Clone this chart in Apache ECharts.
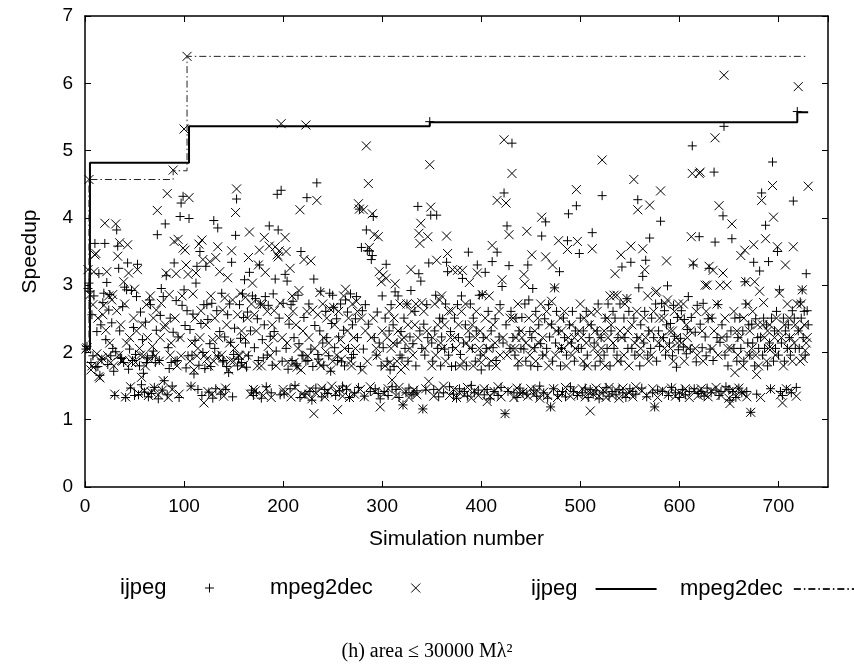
<!DOCTYPE html>
<html>
<head>
<meta charset="utf-8">
<script src="https://cdn.jsdelivr.net/npm/echarts@6/dist/echarts.min.js"></script>
<style>html,body{margin:0;padding:0;background:#fff;}#c{width:854px;height:664px;}</style>
</head>
<body>
<div id="c"></div>
<script>
// Speedup per simulation number (simulation 1..730)
const ijpeg = [
2.05,2.09,2.95,3.03,2.91,1.85,2.56,1.95,2.84,3.62,
1.78,2.31,1.79,3.17,1.66,2.41,1.90,2.74,2.88,3.62,
2.19,3.04,1.82,2.63,2.86,1.95,2.44,2.06,1.72,1.36,
2.01,3.82,3.58,3.25,2.32,1.92,1.91,2.68,1.85,2.97,
1.33,2.93,3.33,1.75,2.05,1.47,2.92,1.88,2.37,1.36,
1.97,2.83,3.31,1.37,1.80,2.60,1.52,2.19,1.69,1.41,
2.45,1.85,1.92,1.34,2.78,2.71,1.39,1.95,2.02,1.48,
1.85,2.33,3.75,1.31,1.88,2.55,2.95,1.44,2.83,1.58,
3.91,3.14,1.37,2.07,1.76,2.51,1.85,1.50,2.30,3.33,
1.87,2.77,1.88,2.23,1.33,4.02,4.22,2.70,4.32,2.93,
2.40,1.77,2.62,1.95,3.99,2.34,1.50,1.96,2.57,1.68,
2.18,3.03,3.28,1.45,1.81,3.50,2.43,1.36,2.00,2.71,
1.76,3.28,2.71,2.49,1.41,2.13,1.79,2.73,1.32,3.96,
2.06,1.46,2.62,3.85,1.95,2.31,1.38,2.88,1.86,1.88,
2.23,1.45,1.79,2.56,1.70,2.72,2.15,3.34,1.34,1.97,
2.36,3.74,4.28,1.80,1.90,2.71,2.21,1.85,2.87,2.52,
3.08,2.14,1.78,2.60,1.95,3.19,2.32,1.44,2.84,1.36,
2.07,2.80,1.40,2.50,1.88,3.30,2.72,1.32,2.19,1.92,
2.41,2.83,1.49,1.96,2.70,3.88,2.24,1.40,1.81,2.87,
2.31,3.09,2.02,4.35,3.82,2.51,1.37,4.41,1.87,2.73,
1.38,3.16,2.06,3.06,1.75,2.42,1.46,2.71,1.88,2.76,
2.22,1.51,1.83,1.80,2.85,2.13,1.33,3.50,1.96,1.95,
2.52,1.38,1.87,4.30,1.88,2.72,1.42,2.05,1.29,1.79,
3.09,2.40,1.47,4.52,1.97,1.90,2.32,2.91,1.34,2.14,
1.81,1.45,2.61,2.22,1.39,1.95,2.88,1.72,2.43,2.85,
2.67,2.07,1.36,2.50,1.88,2.23,1.43,2.72,1.86,1.50,
2.33,1.80,2.78,1.45,2.60,2.06,1.33,2.87,1.92,2.41,
1.97,1.40,2.50,2.83,2.22,1.48,4.13,1.79,3.56,2.62,
2.05,1.35,2.71,3.82,3.51,2.42,3.51,1.42,3.38,3.44,
4.02,2.22,1.46,1.96,2.60,1.39,2.14,1.31,1.80,2.84,
2.07,1.42,2.51,3.31,1.87,1.36,2.32,1.74,2.71,1.49,
2.41,1.79,2.90,1.45,2.14,2.84,1.33,1.96,2.31,1.92,
1.22,2.51,2.06,1.40,2.72,1.87,1.47,2.23,2.92,1.37,
2.13,1.40,2.61,1.80,1.43,4.17,3.17,2.32,3.06,2.06,
1.16,2.42,1.96,1.44,2.71,2.22,3.33,5.43,4.04,2.14,
1.87,1.45,2.32,2.85,4.04,2.06,1.34,2.51,1.80,2.23,
2.50,1.40,2.05,2.72,3.34,3.20,1.96,1.49,2.31,1.79,
2.07,1.38,2.51,1.80,1.32,2.71,2.22,1.46,1.97,2.84,
3.10,2.14,1.42,2.41,1.80,1.35,3.49,2.23,2.72,1.51,
2.06,2.51,1.40,1.87,2.32,3.30,1.44,2.85,1.96,1.74,
2.86,2.22,1.37,3.19,2.06,1.45,2.61,1.80,1.31,2.32,
3.35,2.07,1.42,2.50,1.88,3.49,1.36,2.23,2.71,1.48,
2.98,2.14,4.37,1.09,2.41,3.88,1.42,3.29,2.06,2.61,
5.11,2.22,1.40,1.96,2.51,1.33,1.80,2.32,1.47,2.06,
2.52,1.40,2.05,2.72,1.87,1.38,3.30,2.78,2.31,1.80,
2.22,2.95,1.44,2.07,2.61,1.35,1.79,2.41,1.50,2.13,
3.73,1.96,1.40,2.50,3.94,2.06,1.32,2.71,2.23,1.19,
2.42,1.87,1.46,2.96,2.14,2.61,1.37,2.32,3.20,1.80,
2.06,1.42,2.51,2.22,1.34,1.96,3.66,4.06,2.41,1.49,
2.14,2.61,1.42,1.87,2.32,4.18,1.36,2.06,3.47,2.51,
2.06,1.40,2.32,1.80,1.47,2.61,1.96,1.33,2.22,1.45,
2.41,3.78,1.38,2.14,1.80,1.43,2.32,2.72,1.31,1.87,
2.22,4.33,1.40,1.96,2.51,1.48,2.06,2.72,1.35,1.80,
2.32,1.42,2.61,2.06,2.51,1.37,1.96,2.22,1.45,2.72,
1.87,3.27,1.40,2.51,2.22,1.33,2.80,2.06,2.61,1.46,
3.34,2.06,1.42,2.51,1.96,1.38,2.22,4.27,2.96,1.80,
2.41,1.47,3.13,2.14,2.61,3.37,1.34,1.96,2.32,3.70,
2.06,2.51,1.40,2.22,1.19,2.72,1.87,1.44,2.32,2.09,
3.95,2.73,1.42,2.22,2.62,1.96,2.41,2.99,1.36,2.14,
2.43,1.48,1.95,2.70,2.24,1.40,1.78,2.52,2.04,1.33,
2.21,2.62,1.45,2.08,2.49,1.37,1.98,2.34,2.83,1.42,
2.05,2.52,5.07,3.30,1.46,2.30,1.86,2.70,1.39,3.72,
2.42,1.42,2.07,2.73,1.35,2.23,1.95,1.47,2.50,3.25,
2.05,1.40,2.51,1.88,4.68,3.64,1.44,2.22,2.71,1.36,
2.15,1.42,2.41,4.03,5.36,1.96,1.49,2.23,1.80,1.45,
1.29,2.32,3.69,1.42,2.06,2.51,1.33,1.87,2.22,1.47,
2.52,2.06,1.40,2.32,1.87,3.05,2.72,1.42,2.14,2.41,
1.96,1.11,2.42,2.14,3.34,1.80,2.50,1.38,2.22,2.06,
3.21,2.23,4.37,1.96,2.51,2.06,3.89,2.41,1.80,3.35,
2.14,1.46,2.51,4.83,1.87,2.32,2.06,2.61,3.50,1.96,
2.93,1.42,2.14,1.36,2.51,1.87,2.32,1.45,2.06,2.41,
2.22,1.96,1.40,2.62,4.25,2.51,2.06,1.48,5.58,2.32,
2.06,2.75,2.51,2.93,2.22,2.61,1.96,3.17,2.62,2.41
];
const mpeg2dec = [
2.05,2.07,3.23,4.57,2.86,1.74,1.80,2.71,3.20,3.45,
3.47,1.98,2.51,1.64,1.62,1.87,1.92,2.56,2.70,3.92,
2.33,3.20,1.95,2.84,2.14,1.85,2.78,2.86,1.80,1.38,
3.91,2.62,3.43,1.96,3.63,2.41,1.88,1.87,3.05,2.72,
1.34,2.14,3.60,3.18,2.22,1.49,1.85,1.90,2.51,2.94,
1.85,2.32,3.23,1.39,2.06,1.96,1.63,2.41,1.95,1.43,
1.80,2.71,2.22,1.36,1.90,2.84,1.41,2.09,2.51,1.47,
1.95,2.63,4.11,1.37,1.87,2.22,2.73,1.44,1.58,2.37,
2.41,3.18,4.36,1.33,2.86,1.96,2.14,1.45,4.71,3.65,
2.51,3.17,1.80,3.68,1.38,2.22,1.95,2.84,3.55,5.32,
3.52,3.30,6.40,3.16,4.30,1.87,1.49,2.14,2.87,1.74,
2.51,3.18,1.95,2.06,3.61,2.22,2.62,3.67,3.38,1.25,
1.96,2.41,1.90,1.42,1.80,3.35,2.84,1.38,2.19,1.87,
2.51,3.41,1.95,3.57,2.22,3.20,1.43,1.96,2.63,1.35,
2.81,1.47,2.41,3.11,1.74,2.14,1.88,3.51,2.78,1.87,
2.06,4.08,4.43,2.56,1.96,1.95,2.88,2.32,1.80,1.81,
2.22,2.82,1.96,2.51,3.41,3.79,1.38,2.72,3.03,1.45,
2.56,1.43,2.32,1.80,3.30,3.52,2.72,1.80,2.71,1.36,
3.71,3.19,1.46,2.61,2.09,3.58,1.95,1.33,2.41,2.22,
2.62,3.57,1.80,3.45,3.42,3.51,2.73,5.40,2.22,1.45,
1.40,3.71,3.50,2.14,1.85,2.51,3.25,1.34,2.84,2.61,
1.85,1.48,2.41,1.78,2.06,2.92,4.12,1.74,1.38,2.32,
3.38,1.36,5.38,2.61,1.95,2.22,1.45,3.36,1.31,2.63,
1.09,2.06,1.40,4.26,2.56,1.85,2.89,1.80,1.47,2.72,
2.22,1.34,2.01,2.51,1.42,2.14,2.65,1.74,1.50,1.87,
2.67,2.41,1.40,1.96,1.15,2.61,1.45,2.19,1.90,1.35,
2.84,2.06,2.94,1.47,2.32,2.51,1.33,1.87,1.80,2.72,
2.22,1.38,2.06,2.76,2.61,4.21,4.13,1.45,2.51,1.74,
4.12,1.34,2.32,5.07,1.87,4.51,3.56,1.49,2.22,4.06,
2.51,3.75,1.42,2.06,1.95,3.72,3.20,1.19,3.05,2.32,
3.15,1.39,1.80,3.10,2.22,1.46,2.61,1.85,2.06,1.59,
2.14,2.51,3.02,1.36,1.87,2.32,1.48,2.72,1.74,2.19,
1.22,2.22,1.80,1.42,2.72,2.41,1.33,2.06,3.23,2.61,
1.96,1.44,2.41,2.72,1.37,2.22,3.77,3.62,3.92,2.74,
1.16,2.61,2.06,1.46,2.32,3.72,1.57,4.79,4.16,1.80,
2.22,1.35,2.72,1.96,3.37,2.41,1.44,2.78,2.14,2.84,
2.06,1.50,2.41,1.87,3.73,3.47,2.61,1.36,2.22,2.62,
3.23,1.45,2.22,2.06,1.33,3.22,2.41,1.40,1.80,2.61,
3.22,1.87,1.37,2.72,2.14,1.48,2.32,3.04,2.06,1.32,
2.41,1.80,1.43,2.22,2.61,3.18,1.36,2.06,2.32,1.85,
2.86,1.96,1.46,2.51,2.22,1.27,2.06,2.84,1.35,1.87,
3.59,2.41,1.42,2.14,1.80,4.26,1.49,2.61,1.96,1.34,
3.08,2.22,5.16,1.09,4.22,1.96,1.44,3.75,2.51,2.06,
4.66,2.51,1.33,2.06,2.22,1.47,2.72,1.87,1.38,2.32,
2.22,1.41,3.16,3.02,2.14,3.80,1.35,2.51,1.96,1.46,
3.45,2.06,1.37,2.32,1.87,1.44,2.51,2.14,1.32,2.72,
4.01,2.22,1.41,1.96,3.42,2.61,1.36,1.80,2.41,1.19,
2.76,3.30,1.46,2.96,1.96,2.32,1.33,3.66,2.06,2.51,
2.32,1.39,2.06,2.61,1.48,1.80,3.53,2.22,2.14,1.35,
2.41,1.96,1.44,2.22,2.06,4.42,3.65,1.37,2.32,2.72,
2.22,1.46,1.87,2.51,1.34,2.14,1.80,1.42,2.41,1.13,
2.59,3.54,1.38,2.06,2.32,1.47,2.61,1.96,1.35,2.22,
2.06,4.86,1.44,2.32,1.80,1.33,2.51,2.22,1.48,2.84,
2.41,1.36,2.14,2.85,3.17,1.45,2.85,1.87,1.32,2.32,
3.45,2.22,1.47,1.96,2.72,1.37,2.80,2.32,1.80,1.41,
3.58,2.41,1.34,4.57,2.14,1.49,2.61,4.12,2.22,1.96,
2.06,1.43,3.54,2.51,3.23,2.22,1.36,2.84,1.87,4.19,
2.32,1.96,1.46,2.61,1.19,2.89,2.91,1.33,2.14,2.51,
4.40,2.22,1.44,2.51,2.06,2.72,3.36,2.78,1.38,2.32,
2.06,1.47,2.32,1.87,2.61,1.35,2.22,2.14,2.72,1.41,
2.51,2.14,1.37,2.72,1.87,1.46,2.41,2.22,2.06,1.33,
2.32,3.72,4.66,3.33,1.44,2.06,2.61,1.96,1.36,4.66,
4.68,1.46,2.32,1.87,1.38,3.00,2.61,3.00,1.34,3.28,
2.51,1.43,2.06,3.22,2.32,5.19,1.48,2.72,1.96,4.18,
3.00,1.36,2.22,3.18,6.12,2.51,1.45,3.00,2.06,1.32,
1.24,2.06,3.91,1.44,2.61,1.70,1.35,2.32,1.96,1.47,
2.22,3.44,1.40,1.80,2.51,3.52,3.05,1.34,2.72,1.96,
2.32,1.11,2.06,2.61,3.60,3.05,1.96,1.67,2.41,1.80,
2.91,1.33,4.26,2.41,2.74,2.22,3.69,1.87,2.32,2.06,
2.41,1.45,2.06,4.48,4.01,2.22,1.96,2.51,3.57,2.32,
2.88,1.37,2.22,1.25,1.80,2.41,3.30,1.46,2.72,2.06,
2.51,2.22,1.42,1.87,3.57,2.14,2.41,1.35,2.72,5.95,
2.32,1.87,2.72,2.93,1.91,2.41,2.03,2.14,2.22,4.47
];
// Best-so-far step lines
const ijpegBestSim = [1, 5, 105, 348, 719, 730];
const ijpegBestVal = [2.05, 4.82, 5.36, 5.42, 5.57, 5.57];
const mpegBestSim = [1, 4, 89, 103, 729];
const mpegBestVal = [2.05, 4.57, 4.70, 6.40, 6.40];

const xTicks = [0, 100, 200, 300, 400, 500, 600, 700];
const yTicks = [0, 1, 2, 3, 4, 5, 6, 7];

const plusPath = 'path://M5,0L5,10M0,5L10,5';
const crossPath = 'path://M0,0L10,10M10,0L0,10';
const FONT = 'Liberation Sans';

const chart = echarts.init(document.getElementById('c'), null, {renderer: 'canvas'});
const axisCommon = {
  axisLine: {show: true, onZero: false, lineStyle: {color: '#000', width: 1.5}},
  axisTick: {show: true, inside: true, length: 6, lineStyle: {color: '#000', width: 1}},
  splitLine: {show: false}
};
const lblStyle = {color: '#000', fontFamily: FONT, fontSize: 19};
const legendText = {color: '#000', fontFamily: FONT, fontSize: 22};
const hideSym = {color: 'rgba(0,0,0,0)', borderWidth: 0, opacity: 0};
const markSym = {color: 'rgba(0,0,0,0)', borderColor: '#000', borderWidth: 1};

chart.setOption({
  animation: false,
  backgroundColor: '#fff',
  title: {
    text: '(h) area \u2264 30000 M\u03bb\u00b2',
    left: 'center', top: 637,
    textStyle: {fontFamily: 'Liberation Serif', fontSize: 20, fontWeight: 'normal', color: '#000'}
  },
  grid: {left: 85, right: 26, top: 16, bottom: 177, show: false},
  xAxis: [
    Object.assign({}, axisCommon, {
      type: 'value', min: 0, max: 750, interval: 100, position: 'bottom',
      name: 'Simulation number', nameLocation: 'middle', nameGap: 42,
      nameTextStyle: {color: '#000', fontFamily: FONT, fontSize: 21},
      axisLabel: Object.assign({margin: 10, showMaxLabel: false,
        formatter: v => (xTicks.indexOf(v) >= 0 ? String(v) : '')}, lblStyle)
    }),
    Object.assign({}, axisCommon, {
      type: 'value', min: 0, max: 750, interval: 100, position: 'top',
      axisLabel: {show: false}
    })
  ],
  yAxis: [
    Object.assign({}, axisCommon, {
      type: 'value', min: 0, max: 7, interval: 1, position: 'left',
      name: 'Speedup', nameLocation: 'middle', nameGap: 44, nameRotate: 90,
      nameTextStyle: {color: '#000', fontFamily: FONT, fontSize: 21},
      axisLabel: Object.assign({margin: 12,
        formatter: v => (yTicks.indexOf(v) >= 0 ? String(v) : '')}, lblStyle)
    }),
    Object.assign({}, axisCommon, {
      type: 'value', min: 0, max: 7, interval: 1, position: 'right',
      axisLabel: {show: false}
    })
  ],
  legend: [
    {data: ['ijpeg'], left: 120, top: 577, padding: 0, align: 'right', itemWidth: 76, itemHeight: 9, itemStyle: markSym, textStyle: legendText, selectedMode: false},
    {data: ['mpeg2dec'], left: 270, top: 577, padding: 0, align: 'right', itemWidth: 76, itemHeight: 9, itemStyle: markSym, textStyle: legendText, selectedMode: false},
    {data: ['ijpeg '], left: 531, top: 578, padding: 0, align: 'right', itemWidth: 61, itemHeight: 14, itemStyle: hideSym, textStyle: Object.assign({padding: [0, 7, 0, 0]}, legendText), selectedMode: false},
    {data: ['mpeg2dec '], left: 680, top: 578, padding: 0, align: 'right', itemWidth: 70, itemHeight: 14, itemStyle: hideSym, textStyle: legendText, selectedMode: false}
  ],
  series: [
    {
      name: 'ijpeg', type: 'scatter', symbol: plusPath, symbolSize: 9,
      itemStyle: {color: 'rgba(0,0,0,0)', borderColor: '#000', borderWidth: 1, opacity: 1},
      data: ijpeg.map((v, i) => [i + 1, v])
    },
    {
      name: 'mpeg2dec', type: 'scatter', symbol: crossPath, symbolSize: 9,
      itemStyle: {color: 'rgba(0,0,0,0)', borderColor: '#000', borderWidth: 1, opacity: 1},
      data: mpeg2dec.map((v, i) => [i + 1, v])
    },
    {
      name: 'ijpeg ', type: 'line', step: 'end', symbol: 'none',
      lineStyle: {color: '#000', width: 2},
      itemStyle: {color: '#000'},
      data: ijpegBestSim.map((s, i) => [s, ijpegBestVal[i]])
    },
    {
      name: 'mpeg2dec ', type: 'line', step: 'end', symbol: 'none',
      lineStyle: {color: '#222', width: 1, type: [7, 3, 1.5, 3]},
      itemStyle: {color: '#222'},
      data: mpegBestSim.map((s, i) => [s, mpegBestVal[i]])
    }
  ]
});
</script>
</body>
</html>
